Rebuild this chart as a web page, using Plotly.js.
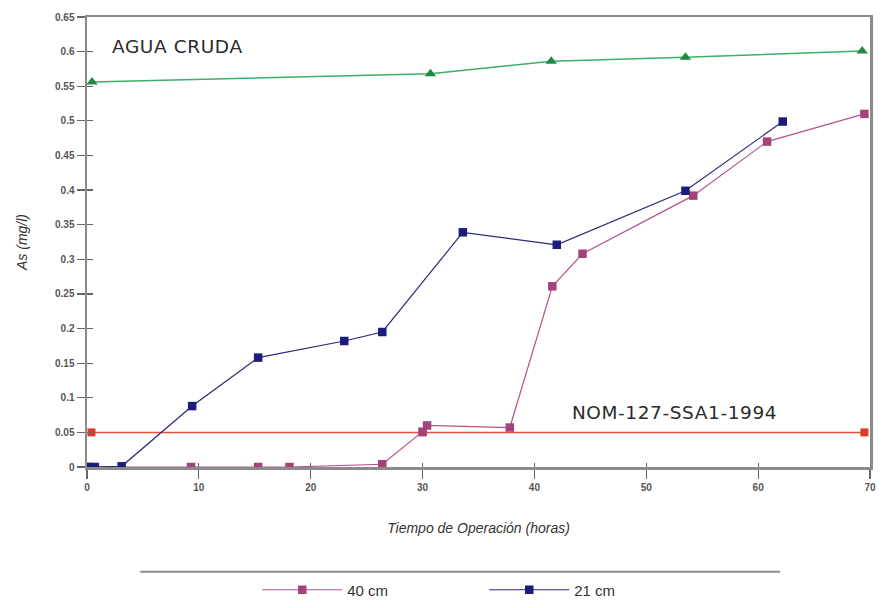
<!DOCTYPE html>
<html>
<head>
<meta charset="utf-8">
<script src="https://cdn.plot.ly/plotly-3.0.1.min.js"></script>
<style>html,body{margin:0;padding:0;background:#fff;}#chart{width:884px;height:608px;}
#chart .annotation-text{letter-spacing:0.6px;}</style>
</head>
<body>
<div id="chart"></div>
<script>
// Data
const crudaX = [0.45, 30.7, 41.5, 53.5, 69.3];
const crudaY = [0.556, 0.568, 0.586, 0.592, 0.601];

const nomX = [0.4, 30.0, 69.5];
const nomY = [0.05, 0.05, 0.05];

const cm40X = [0.2, 9.3, 15.3, 18.1, 26.4, 30.0, 30.4, 37.8, 41.6, 44.3, 54.2, 60.8, 69.5];
const cm40Y = [0.0, 0.0, 0.0, 0.0, 0.004, 0.051, 0.060, 0.057, 0.261, 0.308, 0.392, 0.470, 0.510];

const cm21X = [0.1, 0.7, 3.1, 9.4, 15.3, 23.0, 26.4, 33.6, 42.0, 53.5, 62.2];
const cm21Y = [0.0, 0.0, 0.001, 0.088, 0.158, 0.182, 0.195, 0.339, 0.321, 0.399, 0.499];

const seriesNames = ['40 cm', '21 cm'];
const labelCruda = 'AGUA CRUDA';
const labelNom = 'NOM-127-SSA1-1994';
const xTitle = 'Tiempo de Operación (horas)';
const yTitle = 'As (mg/l)';

const tickFont = {family: 'Liberation Sans Narrow, Arial Narrow, Liberation Sans, Arial, sans-serif', size: 10, color: '#555', weight: 'bold'};
const noteFont = {family: 'DejaVu Sans, Liberation Sans, Arial, sans-serif', size: 18.5, color: '#2a2a2a'};

const traces = [
  {x: nomX, y: nomY, mode: 'lines+markers', showlegend: false, hoverinfo: 'skip',
   line: {color: '#e8503a', width: 1.5}, marker: {symbol: 'square', size: 8, color: '#e03a2a'}},
  {x: crudaX, y: crudaY, mode: 'lines+markers', showlegend: false,
   line: {color: '#3cb066', width: 1.5}, marker: {symbol: 'triangle-up', size: 10, color: '#1f8a45'}},
  {x: cm40X, y: cm40Y, name: seriesNames[0], mode: 'lines+markers',
   line: {color: '#b8508c', width: 1.2}, marker: {symbol: 'square', size: 8.5, color: '#a3437a'}},
  {x: cm21X, y: cm21Y, name: seriesNames[1], mode: 'lines+markers',
   line: {color: '#2a2a78', width: 1.2}, marker: {symbol: 'square', size: 8.5, color: '#1c1c7a'}},
  // empty helper trace so the inner-tick overlay axes are drawn
  {x: [], y: [], xaxis: 'x2', yaxis: 'y2', mode: 'markers', showlegend: false, hoverinfo: 'skip'}
];

const layout = {
  width: 884, height: 608,
  margin: {l: 87, r: 14, t: 17, b: 141},
  paper_bgcolor: '#fff', plot_bgcolor: '#fff',
  showlegend: true,
  font: {family: 'Liberation Sans, Arial, sans-serif', color: '#333'},
  xaxis: {
    range: [0, 70], dtick: 10, tick0: 0, showgrid: false, zeroline: false,
    showline: true, linecolor: '#8a8a8a', linewidth: 2.5, mirror: true,
    ticks: 'outside', ticklen: 9, tickwidth: 1.2, tickcolor: '#666',
    tickfont: tickFont,
    title: {text: xTitle, font: {size: 14, color: '#333', style: 'italic'}, standoff: 32}
  },
  xaxis2: {
    overlaying: 'x', side: 'bottom', range: [0, 70], dtick: 10, tick0: 0,
    showgrid: false, zeroline: false, showline: false, showticklabels: false,
    ticks: 'inside', ticklen: 4, tickwidth: 1.2, tickcolor: '#666'
  },
  yaxis: {
    range: [0, 0.65], dtick: 0.05, tick0: 0, showgrid: false, zeroline: false,
    showline: true, linecolor: '#8a8a8a', linewidth: 2.5, mirror: true,
    ticks: 'outside', ticklen: 8, tickwidth: 1.2, tickcolor: '#666',
    tickfont: tickFont,
    title: {text: yTitle, font: {size: 14, color: '#333', style: 'italic'}, standoff: 24}
  },
  yaxis2: {
    overlaying: 'y', side: 'left', range: [0, 0.65], dtick: 0.05, tick0: 0,
    showgrid: false, zeroline: false, showline: false, showticklabels: false,
    ticks: 'inside', ticklen: 6, tickwidth: 1.2, tickcolor: '#666'
  },
  legend: {
    orientation: 'h', x: 0.291, xref: 'container', y: 0.0296, yref: 'container',
    xanchor: 'left', yanchor: 'middle',
    font: {size: 15, color: '#333'}, itemwidth: 80, entrywidth: 132, entrywidthmode: 'pixels',
    bgcolor: 'rgba(0,0,0,0)'
  },
  shapes: [
    {type: 'line', xref: 'paper', yref: 'paper', x0: 0.068, x1: 0.885, y0: -0.233, y1: -0.233,
     line: {color: '#8a8a8a', width: 2}}
  ],
  annotations: [
    {text: labelCruda, xref: 'x', yref: 'y', x: 2.3, y: 0.608, xanchor: 'left', yanchor: 'middle',
     showarrow: false, font: noteFont},
    {text: labelNom, xref: 'x', yref: 'y', x: 43.6, y: 0.079, xanchor: 'left', yanchor: 'middle',
     showarrow: false, font: noteFont}
  ]
};

Plotly.newPlot('chart', traces, layout, {displayModeBar: false, staticPlot: true});
</script>
</body>
</html>
